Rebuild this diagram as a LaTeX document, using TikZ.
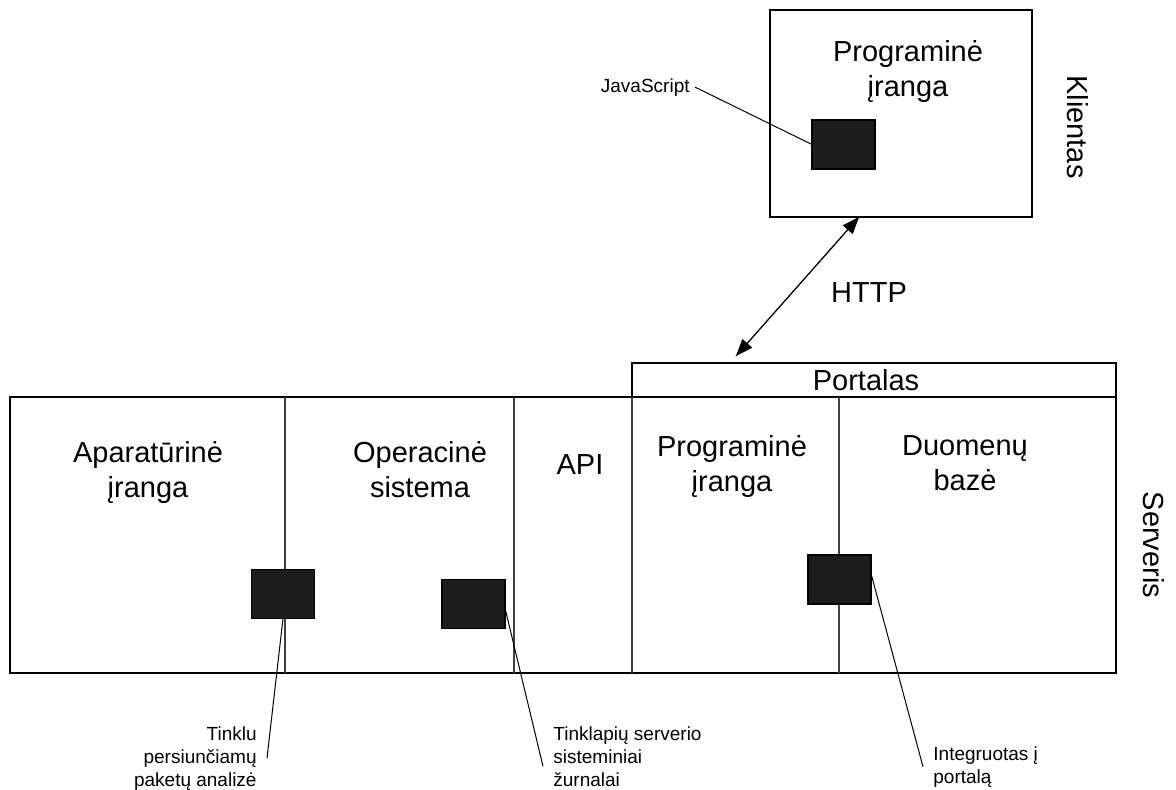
\documentclass[tikz,border=0pt]{standalone}
\usepackage{fontspec}
\setmainfont{Liberation Sans}
\usetikzlibrary{arrows.meta,calc}
\definecolor{chip}{HTML}{1C1C1C}
\begin{document}
\begin{tikzpicture}[x=0.5pt,y=-0.5pt,
  frame/.style={draw=black, line width=0.6pt, inner sep=0pt, outer sep=0pt, anchor=north west},
  divider/.style={draw=black!75, line width=0.6pt},
  chipbox/.style={draw=black, fill=chip, line width=0.6pt, minimum width=31.5pt, minimum height=24.5pt, inner sep=0pt, outer sep=0pt},
  bigtext/.style={font=\fontsize{14.5}{17.5}\selectfont, align=center, inner sep=0pt},
  smalltext/.style={font=\fontsize{9.5}{11.5}\selectfont, inner sep=0pt},
  leader/.style={draw=black, line width=0.5pt},
  tip/.style={-{Triangle[length=8.5pt,width=6.5pt]}},
  ]
\useasboundingbox (0,0) rectangle (1176,789);

% client and server frames
\node[frame, minimum width=131pt, minimum height=103.5pt] (client) at (770,10) {};
\node[frame, minimum width=553pt, minimum height=138pt] (server) at (10,397) {};
\node[frame, minimum width=242pt, minimum height=17pt] (portal) at (632,363) {};

% column separators of the server
\draw[divider] (285,397) -- (285,673);
\draw[divider] (514,397) -- (514,673);
\draw[divider] (632,397) -- (632,673);
\draw[divider] (839,397) -- (839,673);

% titles
\node[bigtext, anchor=north] (clienttitle) at (908,40) {Programinė\\įranga};
\node[bigtext, anchor=north] (hwtitle) at (148,441) {Aparatūrinė\\įranga};
\node[bigtext, anchor=north] (ostitle) at (420,441) {Operacinė\\sistema};
\node[bigtext, anchor=north] (apititle) at (580,454) {API};
\node[bigtext, anchor=north] (swtitle) at (732,435) {Programinė\\įranga};
\node[bigtext, anchor=north] (dbtitle) at (965,435) {Duomenų\\bazė};
\node[bigtext, anchor=base] (portaltitle) at (866,390) {Portalas};
\node[bigtext, anchor=base] (httptitle) at (869,302) {HTTP};
\node[bigtext, rotate=-90] (clientside) at (1078,127) {Klientas};
\node[bigtext, rotate=-90] (serverside) at (1154,545) {Serveris};

% monitoring points
\node[chipbox] (jschip) at (843.5,144.5) {};
\node[chipbox] (hwchip) at (283,594) {};
\node[chipbox] (oschip) at (473.5,604) {};
\node[chipbox] (dbchip) at (839.5,579.5) {};

% labels of the monitoring points
\node[smalltext, anchor=base east] (jslab) at (690,92) {JavaScript};
\node[smalltext, align=right, anchor=north east] (hwlab) at (257,726) {Tinklu\\persiunčiamų\\paketų analizė};
\node[smalltext, align=left, anchor=north west] (oslab) at (553,726) {Tinklapių serverio\\sisteminiai\\žurnalai};
\node[smalltext, align=left, anchor=north west] (dblab) at (933,746) {Integruotas į\\portalą};

% leader lines
\draw[leader] ([xshift=2.5pt]jslab.east) -- (jschip.west);
\draw[leader] (hwchip.south) -- ([xshift=5pt]hwlab.east);
\draw[leader] ([yshift=-2pt]oschip.east) -- ([xshift=-5pt,yshift=-5pt]oslab.west);
\draw[leader] ([yshift=3pt]dbchip.east) -- ([xshift=-5pt]dblab.west);

% HTTP link between client and portal
\coordinate (httpTop) at ($(client.south west)+(89,0)$);
\coordinate (httpBot) at ($(portal.north west)+(104,-7)$);
\draw[line width=0.5pt, tip] (httpTop) -- (httpBot);
\draw[line width=0.5pt, tip] (httpBot) -- (httpTop);
\end{tikzpicture}
\end{document}
